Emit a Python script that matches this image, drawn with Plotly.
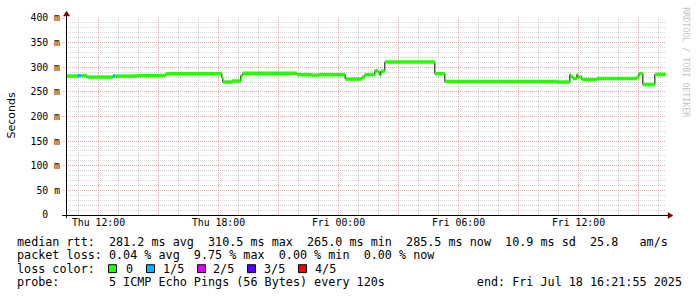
import plotly.graph_objects as go
import pandas as pd

# ---------------- data ----------------
seg_start = [
    "2025-07-17 10:22", "2025-07-17 10:58", "2025-07-17 11:07", "2025-07-17 11:25",
    "2025-07-17 12:43", "2025-07-17 12:49", "2025-07-17 13:55", "2025-07-17 15:22",
    "2025-07-17 18:10", "2025-07-17 18:13", "2025-07-17 18:40", "2025-07-17 19:07",
    "2025-07-17 19:13", "2025-07-17 21:55", "2025-07-17 22:40", "2025-07-17 23:01",
    "2025-07-18 00:20", "2025-07-18 01:10", "2025-07-18 01:19", "2025-07-18 01:49",
    "2025-07-18 01:58", "2025-07-18 02:04", "2025-07-18 02:07", "2025-07-18 02:19",
    "2025-07-18 04:49", "2025-07-18 05:19", "2025-07-18 10:55", "2025-07-18 11:34",
    "2025-07-18 11:37", "2025-07-18 11:43", "2025-07-18 11:55", "2025-07-18 11:58",
    "2025-07-18 12:10", "2025-07-18 12:55", "2025-07-18 14:55", "2025-07-18 15:01",
    "2025-07-18 15:13", "2025-07-18 15:49",
]
median_ms = [
    282, 283, 283, 280,
    282.5, 282, 283, 287,
    279, 270, 272, 283,
    288, 285, 284, 285,
    276, 280, 285, 293,
    290, 284, 292, 310.5,
    287, 271, 270, 285,
    281, 277, 285, 280,
    275, 277, 280, 287,
    265, 285.5,
]
loss_class = [
    0, 1, 0, 0,
    1, 0, 0, 0,
    0, 0, 0, 0,
    0, 0, 0, 0,
    0, 0, 0, 0,
    0, 0, 0, 0,
    0, 0, 0, 0,
    0, 0, 0, 0,
    0, 0, 0, 0,
    0, 0,
]
data_end = "2025-07-18 16:21:55"
x_range = ["2025-07-17 10:22:30", "2025-07-18 16:22:30"]

major_tick_vals = ["2025-07-17 12:00", "2025-07-17 15:00", "2025-07-17 18:00", "2025-07-17 21:00",
                   "2025-07-18 00:00", "2025-07-18 03:00", "2025-07-18 06:00", "2025-07-18 09:00",
                   "2025-07-18 12:00", "2025-07-18 15:00"]
major_tick_text = ["Thu 12:00", "", "Thu 18:00", "", "Fri 00:00", "", "Fri 06:00", "", "Fri 12:00", ""]

y_tick_vals = [0, 50, 100, 150, 200, 250, 300, 350, 400]
y_tick_text = ["0\u00a0\u00a0", "50 m", "100 m", "150 m", "200 m", "250 m", "300 m", "350 m", "400 m"]

loss_labels = ["0", "1/5", "2/5", "3/5", "4/5"]
loss_colors = ["#26ff00", "#00b8ff", "#dd00ff", "#5500ff", "#ff0000"]

legend_lines = [
    "median rtt:  281.2 ms avg  310.5 ms max  265.0 ms min  285.5 ms now  10.9 ms sd  25.8   am/s",
    "packet loss: 0.04 % avg  9.75 % max  0.00 % min  0.00 % now",
    "loss color:",
    "probe:       5 ICMP Echo Pings (56 Bytes) every 120s             end: Fri Jul 18 16:21:55 2025",
]

# ---------------- figure ----------------
MONO = "DejaVu Sans Mono"
GRID = "rgba(160,160,160,0.45)"
MGRID = "rgba(225,120,120,0.45)"

starts = list(pd.to_datetime(seg_start))
ends = starts[1:] + [pd.Timestamp(data_end)]

fig = go.Figure()

# dark median line (step)
fig.add_trace(go.Scatter(
    x=starts + [ends[-1]], y=median_ms + [median_ms[-1]],
    mode="lines", line=dict(color="#000000", width=1, shape="hv"),
    hoverinfo="skip"))

# loss-coloured bands
for cls, col in enumerate(loss_colors):
    xs, ys = [], []
    for s, e, v, l in zip(starts, ends, median_ms, loss_class):
        if l == cls:
            xs += [s, e, None]
            ys += [v, v, None]
    if xs:
        fig.add_trace(go.Scatter(x=xs, y=ys, mode="lines",
                                 line=dict(color=col, width=3.5),
                                 connectgaps=False, hoverinfo="skip"))

L, R, T, B, W, H = 66, 31, 15, 82, 697, 297
PW, PH = W - L - R, H - T - B


def px(xp):
    return (xp - L) / PW


def py(yp):
    return (T + PH - yp) / PH


fig.update_layout(
    width=W, height=H,
    margin=dict(l=L, r=R, t=T, b=B),
    paper_bgcolor="white", plot_bgcolor="white",
    showlegend=False,
    xaxis=dict(
        type="date", range=x_range,
        tickmode="array", tickvals=major_tick_vals, ticktext=major_tick_text,
        showgrid=True, gridcolor=MGRID, griddash="1px,1px", gridwidth=1,
        ticks="",
        tickfont=dict(family=MONO, size=9.8, color="#000"),
        showline=False, zeroline=False,
        minor=dict(tickmode="linear", tick0="2025-07-17 00:00", dtick=3600000,
                   showgrid=True, gridcolor=GRID, griddash="1px,1px", gridwidth=1,
                   ticks=""),
    ),
    yaxis=dict(
        range=[0, 400],
        tickmode="array", tickvals=y_tick_vals, ticktext=y_tick_text,
        showgrid=True, gridcolor=MGRID, griddash="1px,1px", gridwidth=1,
        ticks="outside", ticklen=3, tickcolor=MGRID,
        tickfont=dict(family=MONO, size=9.8, color="#000"),
        showline=False, zeroline=False,
        minor=dict(tickmode="linear", tick0=0, dtick=10,
                   showgrid=True, gridcolor=GRID, griddash="1px,1px", gridwidth=1,
                   ticks=""),
    ),
)

shapes = []
# axes
shapes.append(dict(type="line", xref="paper", yref="paper",
                   x0=px(62), x1=px(668), y0=py(215.5), y1=py(215.5),
                   line=dict(color="#000", width=1)))
shapes.append(dict(type="line", xref="paper", yref="paper",
                   x0=px(66.5), x1=px(66.5), y0=py(218), y1=py(13),
                   line=dict(color="#000", width=1)))
# arrows
shapes.append(dict(type="path", xref="paper", yref="paper",
                   path=f"M {px(673)},{py(215.5)} L {px(668)},{py(212.5)} L {px(668)},{py(218.5)} Z",
                   fillcolor="#7f0000", line=dict(color="#7f0000", width=0.5)))
shapes.append(dict(type="path", xref="paper", yref="paper",
                   path=f"M {px(66.5)},{py(8)} L {px(63.5)},{py(13)} L {px(69.5)},{py(13)} Z",
                   fillcolor="#7f0000", line=dict(color="#7f0000", width=0.5)))

annotations = []
# y title
annotations.append(dict(text="Seconds", x=px(12), y=py(114), xref="paper", yref="paper",
                        showarrow=False, textangle=-90, xanchor="center", yanchor="middle",
                        font=dict(family="DejaVu Sans", size=11, color="#000")))
# watermark
annotations.append(dict(text="RRDTOOL / TOBI OETIKER", x=px(686), y=py(60), xref="paper", yref="paper",
                        showarrow=False, textangle=90, xanchor="center", yanchor="middle",
                        font=dict(family=MONO, size=8.3, color="#c4c4c4")))

# legend lines
line_y = [242.2, 255.7, 269.7, 283.2]
for txt, yy in zip(legend_lines, line_y):
    annotations.append(dict(text=txt.replace(" ", "\u00a0"), x=px(15), y=py(yy),
                            xref="paper", yref="paper", showarrow=False,
                            xanchor="left", yanchor="middle",
                            font=dict(family=MONO, size=11.75, color="#000")))

# loss colour boxes
box_x = [108, 146, 197, 247, 298]
label_x = [124, 160.5, 211, 262, 312.5]
for bx, lx, lab, col in zip(box_x, label_x, loss_labels, loss_colors):
    shapes.append(dict(type="rect", xref="paper", yref="paper",
                       x0=px(bx + 0.5), x1=px(bx + 8.5), y0=py(265.5), y1=py(273.5),
                       fillcolor=col, line=dict(color="#000", width=1)))
    annotations.append(dict(text=lab, x=px(lx), y=py(269.7), xref="paper", yref="paper",
                            showarrow=False, xanchor="left", yanchor="middle",
                            font=dict(family=MONO, size=11.75, color="#000")))

fig.update_layout(shapes=shapes, annotations=annotations)
fig.write_html("out.html")
